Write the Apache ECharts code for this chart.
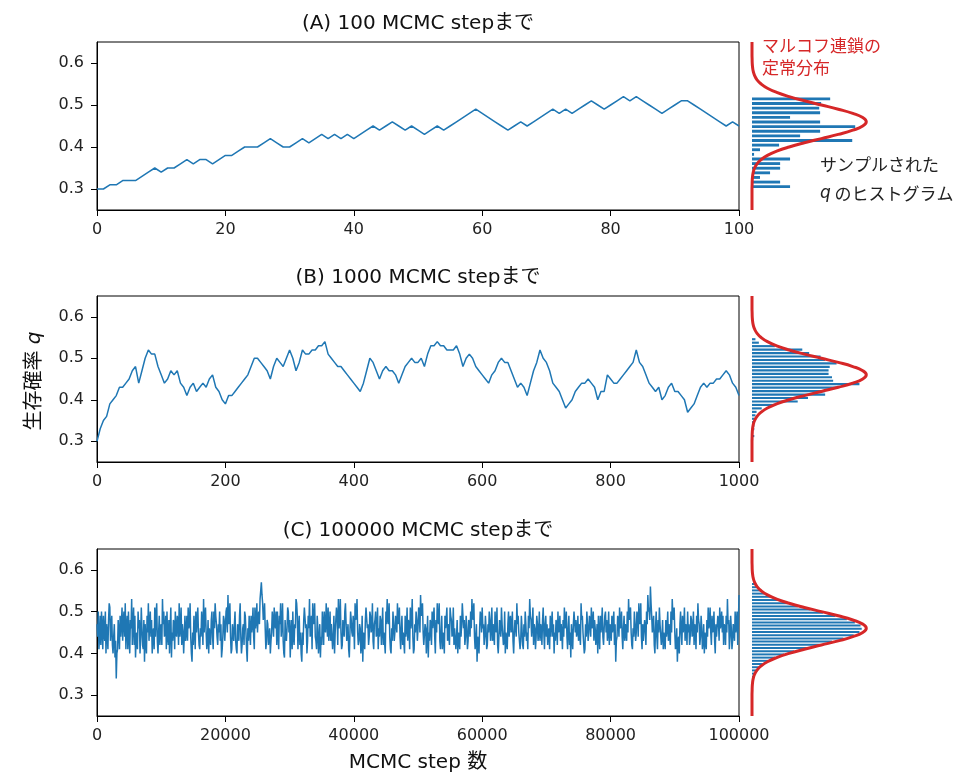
<!DOCTYPE html>
<html>
<head>
<meta charset="utf-8">
<script src="https://cdn.jsdelivr.net/npm/echarts@6/dist/echarts.min.js"></script>
<style>
  html, body { margin: 0; padding: 0; background: #fff; }
  .chart { width: 974px; height: 781px; }
</style>
</head>
<body>
<div class="chart"></div>
<script>
// (A) 100 step の軌跡
var traceA = [0.30,0.30,0.31,0.31,0.32,0.32,0.32,0.33,0.34,0.35,
  0.34,0.35,0.35,0.36,0.37,0.36,0.37,0.37,0.36,0.37,
  0.38,0.38,0.39,0.40,0.40,0.40,0.41,0.42,0.41,0.40,
  0.40,0.41,0.42,0.41,0.42,0.43,0.42,0.43,0.42,0.43,
  0.42,0.43,0.44,0.45,0.44,0.45,0.46,0.45,0.44,0.45,
  0.44,0.43,0.44,0.45,0.44,0.45,0.46,0.47,0.48,0.49,
  0.48,0.47,0.46,0.45,0.44,0.45,0.46,0.45,0.46,0.47,
  0.48,0.49,0.48,0.49,0.48,0.49,0.50,0.51,0.50,0.49,
  0.50,0.51,0.52,0.51,0.52,0.51,0.50,0.49,0.48,0.49,
  0.50,0.51,0.51,0.50,0.49,0.48,0.47,0.46,0.45,0.46,0.45];

// (B) 1000 step の軌跡 (5 step ごと)
var traceB = [0.30,0.33,0.35,0.36,0.39,0.40,0.41,0.43,0.43,0.44,
  0.45,0.47,0.48,0.44,0.47,0.50,0.52,0.51,0.51,0.48,
  0.46,0.44,0.45,0.47,0.46,0.47,0.44,0.43,0.41,0.43,
  0.44,0.42,0.43,0.44,0.43,0.45,0.46,0.43,0.42,0.40,
  0.39,0.41,0.41,0.42,0.43,0.44,0.45,0.46,0.48,0.50,
  0.50,0.49,0.48,0.47,0.45,0.48,0.50,0.49,0.48,0.50,
  0.52,0.50,0.47,0.49,0.52,0.51,0.51,0.52,0.52,0.53,
  0.53,0.54,0.51,0.50,0.49,0.48,0.48,0.47,0.46,0.45,
  0.44,0.43,0.42,0.44,0.47,0.50,0.49,0.47,0.45,0.47,
  0.48,0.47,0.47,0.46,0.44,0.46,0.48,0.49,0.50,0.49,
  0.49,0.50,0.48,0.51,0.53,0.53,0.54,0.53,0.53,0.52,
  0.52,0.52,0.53,0.51,0.48,0.50,0.51,0.50,0.48,0.47,
  0.46,0.45,0.44,0.46,0.47,0.49,0.50,0.49,0.49,0.47,
  0.45,0.43,0.44,0.43,0.41,0.44,0.47,0.49,0.52,0.50,
  0.49,0.47,0.44,0.43,0.42,0.40,0.38,0.39,0.40,0.42,
  0.43,0.44,0.44,0.45,0.44,0.43,0.40,0.42,0.42,0.46,
  0.45,0.44,0.44,0.45,0.46,0.47,0.48,0.49,0.52,0.49,
  0.48,0.46,0.44,0.43,0.42,0.43,0.40,0.41,0.43,0.44,
  0.42,0.42,0.41,0.40,0.37,0.38,0.39,0.41,0.43,0.44,
  0.43,0.44,0.44,0.45,0.45,0.46,0.47,0.46,0.44,0.43,0.41];

// (C) 100000 step の軌跡: 200 step ごとの値 (step 0, 200, 400, ...)
var traceC = [0.47,0.50,0.44,0.42,0.46,0.49,0.43,0.40,0.45,0.48,0.51,0.46,0.42,0.44,0.39,0.34,0.41,0.45,0.49,0.47,
  0.43,0.50,0.52,0.46,0.41,0.44,0.48,0.53,0.47,0.42,0.39,0.45,0.50,0.48,0.44,0.46,0.41,0.38,0.43,0.49,
  0.52,0.47,0.44,0.40,0.46,0.51,0.49,0.43,0.45,0.42,0.47,0.53,0.50,0.45,0.41,0.44,0.48,0.46,0.39,0.43,
  0.47,0.50,0.44,0.48,0.52,0.46,0.42,0.45,0.40,0.43,0.49,0.51,0.47,0.44,0.38,0.42,0.46,0.50,0.48,0.45,
  0.41,0.44,0.47,0.53,0.49,0.45,0.43,0.40,0.46,0.48,0.44,0.50,0.52,0.47,0.42,0.45,0.43,0.39,0.44,0.48,
  0.46,0.51,0.54,0.48,0.44,0.41,0.45,0.47,0.43,0.40,0.46,0.49,0.44,0.42,0.47,0.50,0.45,0.38,0.43,0.46,
  0.49,0.47,0.44,0.51,0.48,0.45,0.50,0.53,0.57,0.52,0.49,0.46,0.43,0.47,0.44,0.40,0.45,0.48,0.51,0.46,
  0.42,0.45,0.49,0.52,0.47,0.43,0.39,0.44,0.46,0.50,0.48,0.45,0.41,0.44,0.47,0.53,0.49,0.46,0.42,0.40,
  0.45,0.48,0.51,0.47,0.43,0.46,0.44,0.49,0.52,0.48,0.44,0.41,0.46,0.43,0.39,0.42,0.47,0.50,0.45,0.48,
  0.51,0.46,0.43,0.47,0.44,0.40,0.45,0.49,0.53,0.48,0.45,0.42,0.46,0.50,0.47,0.43,0.41,0.45,0.48,0.44,
  0.47,0.52,0.49,0.45,0.43,0.46,0.42,0.38,0.44,0.48,0.51,0.47,0.44,0.49,0.46,0.43,0.47,0.50,0.45,0.41,
  0.44,0.48,0.46,0.42,0.45,0.50,0.53,0.47,0.44,0.40,0.43,0.47,0.45,0.49,0.52,0.48,0.44,0.46,0.42,0.45,
  0.49,0.46,0.43,0.47,0.51,0.48,0.44,0.41,0.45,0.48,0.46,0.50,0.54,0.49,0.45,0.42,0.46,0.44,0.39,0.43,
  0.47,0.50,0.46,0.44,0.48,0.52,0.47,0.43,0.45,0.41,0.44,0.49,0.46,0.43,0.47,0.51,0.48,0.45,0.42,0.46,
  0.44,0.40,0.45,0.49,0.47,0.52,0.48,0.44,0.46,0.43,0.47,0.50,0.53,0.48,0.44,0.41,0.38,0.43,0.46,0.49,
  0.51,0.47,0.44,0.46,0.42,0.45,0.48,0.46,0.43,0.47,0.50,0.45,0.42,0.44,0.48,0.51,0.47,0.43,0.40,0.45,
  0.47,0.44,0.49,0.46,0.43,0.45,0.48,0.52,0.49,0.45,0.43,0.46,0.41,0.44,0.47,0.45,0.49,0.53,0.48,0.44,
  0.42,0.46,0.44,0.47,0.45,0.43,0.46,0.48,0.45,0.47,0.44,0.42,0.46,0.49,0.47,0.44,0.40,0.43,0.47,0.50,
  0.46,0.43,0.45,0.48,0.51,0.47,0.44,0.46,0.42,0.39,0.44,0.47,0.50,0.48,0.45,0.43,0.47,0.52,0.49,0.45,
  0.41,0.44,0.47,0.45,0.48,0.51,0.47,0.43,0.46,0.44,0.40,0.45,0.49,0.47,0.44,0.46,0.50,0.48,0.45,0.42,
  0.46,0.49,0.45,0.42,0.38,0.44,0.48,0.51,0.47,0.44,0.46,0.43,0.47,0.50,0.53,0.48,0.45,0.41,0.44,0.47,
  0.45,0.49,0.52,0.48,0.44,0.47,0.43,0.46,0.50,0.54,0.51,0.56,0.49,0.45,0.42,0.46,0.44,0.48,0.51,0.47,
  0.44,0.41,0.45,0.48,0.46,0.43,0.47,0.50,0.53,0.48,0.45,0.42,0.38,0.44,0.47,0.45,0.49,0.46,0.43,0.46,
  0.50,0.47,0.44,0.48,0.45,0.42,0.46,0.49,0.52,0.47,0.44,0.46,0.43,0.40,0.45,0.48,0.51,0.47,0.45,0.49,
  0.46,0.43,0.47,0.44,0.48,0.51,0.47,0.45,0.42,0.46,0.49,0.53,0.48,0.44,0.46,0.43,0.47,0.50,0.45,0.42,
  0.54];
// (C) その間の値 (step 100, 300, 500, ...)
var traceCMid = [0.44,0.41,0.49,0.50,0.41,0.45,0.50,0.47,0.41,0.52,0.43,0.49,0.40,0.47,0.43,0.40,0.48,0.41,0.44,0.51,
  0.48,0.44,0.41,0.49,0.50,0.40,0.46,0.42,0.51,0.49,0.44,0.41,0.46,0.40,0.51,0.42,0.48,0.47,0.40,0.45,
  0.43,0.50,0.48,0.45,0.41,0.44,0.52,0.40,0.49,0.46,0.42,0.47,0.44,0.49,0.50,0.42,0.40,0.51,0.45,0.48,
  0.41,0.45,0.49,0.42,0.44,0.51,0.47,0.40,0.49,0.45,0.43,0.46,0.52,0.40,0.45,0.49,0.41,0.45,0.51,0.42,
  0.46,0.50,0.42,0.45,0.51,0.41,0.48,0.46,0.42,0.50,0.41,0.46,0.49,0.44,0.47,0.50,0.47,0.41,0.49,0.43,
  0.50,0.45,0.47,0.52,0.40,0.47,0.43,0.50,0.41,0.47,0.43,0.52,0.40,0.46,0.42,0.49,0.41,0.46,0.49,0.42,
  0.45,0.51,0.41,0.46,0.52,0.49,0.47,0.55,0.54,0.48,0.52,0.41,0.48,0.42,0.46,0.43,0.50,0.44,0.47,0.50,
  0.50,0.41,0.47,0.44,0.52,0.40,0.48,0.43,0.51,0.45,0.39,0.48,0.50,0.42,0.46,0.52,0.41,0.49,0.45,0.38,
  0.42,0.51,0.46,0.40,0.49,0.53,0.45,0.41,0.47,0.52,0.43,0.49,0.40,0.47,0.44,0.50,0.42,0.46,0.52,0.44,
  0.43,0.50,0.47,0.41,0.49,0.45,0.51,0.42,0.46,0.53,0.41,0.48,0.44,0.52,0.43,0.47,0.39,0.50,0.45,0.49,
  0.41,0.48,0.53,0.42,0.47,0.40,0.49,0.45,0.41,0.51,0.46,0.42,0.50,0.45,0.52,0.41,0.48,0.44,0.51,0.46,
  0.49,0.42,0.51,0.45,0.40,0.47,0.48,0.52,0.41,0.46,0.50,0.43,0.49,0.45,0.47,0.51,0.41,0.49,0.45,0.40,
  0.44,0.51,0.48,0.41,0.46,0.53,0.40,0.47,0.50,0.43,0.51,0.45,0.49,0.52,0.42,0.47,0.40,0.49,0.45,0.48,
  0.42,0.46,0.51,0.40,0.45,0.48,0.52,0.41,0.49,0.45,0.40,0.46,0.51,0.47,0.42,0.49,0.44,0.51,0.46,0.41,
  0.48,0.45,0.41,0.44,0.52,0.46,0.42,0.49,0.41,0.48,0.44,0.46,0.49,0.52,0.41,0.47,0.44,0.40,0.50,0.45,
  0.46,0.42,0.49,0.41,0.47,0.50,0.43,0.51,0.47,0.42,0.46,0.51,0.40,0.48,0.44,0.47,0.42,0.50,0.45,0.41,
  0.50,0.48,0.45,0.50,0.40,0.48,0.44,0.47,0.45,0.41,0.49,0.42,0.47,0.50,0.43,0.41,0.46,0.49,0.44,0.51,
  0.47,0.41,0.49,0.43,0.50,0.47,0.42,0.51,0.41,0.49,0.47,0.45,0.41,0.44,0.50,0.47,0.45,0.48,0.42,0.45,
  0.49,0.47,0.41,0.44,0.46,0.50,0.41,0.49,0.45,0.47,0.41,0.50,0.45,0.44,0.49,0.47,0.42,0.48,0.45,0.40,
  0.47,0.50,0.43,0.49,0.44,0.46,0.50,0.48,0.42,0.47,0.49,0.41,0.45,0.51,0.42,0.49,0.45,0.43,0.50,0.47,
  0.43,0.45,0.50,0.47,0.43,0.49,0.44,0.46,0.50,0.41,0.49,0.47,0.43,0.45,0.48,0.51,0.42,0.46,0.50,0.43,
  0.50,0.44,0.47,0.52,0.41,0.43,0.48,0.42,0.47,0.50,0.48,0.52,0.45,0.49,0.40,0.50,0.41,0.45,0.47,0.42,
  0.48,0.45,0.41,0.44,0.50,0.47,0.42,0.45,0.49,0.51,0.41,0.46,0.43,0.40,0.50,0.42,0.45,0.51,0.47,0.42,
  0.45,0.42,0.49,0.44,0.50,0.47,0.41,0.45,0.48,0.42,0.49,0.41,0.47,0.45,0.41,0.44,0.46,0.51,0.42,0.45,
  0.50,0.40,0.44,0.49,0.43,0.46,0.50,0.49,0.47,0.42,0.45,0.47,0.41,0.49,0.41,0.47,0.43,0.45,0.50,0.47];

// ヒストグラム (密度, 下の bin から)
var histA = [3.33,2.46,0.70,1.58,2.46,2.46,3.33,0.18,0.70,2.37,
  8.77,4.21,5.96,9.03,5.96,3.33,5.96,5.88,6.05,6.84];
var histB = [0.10,0.20,0.10,0.20,0.20,0.20,0.20,0.30,0.40,0.85,
  2.0,4.0,4.9,6.4,6.4,7.4,9.4,7.1,7.0,6.7,
  6.7,6.8,7.4,6.4,6.0,5.0,4.4,2.0,0.6,0.3];
var histC = [0.12,0.22,0.40,0.60,0.95,1.4,2.0,2.8,3.7,4.8,
  5.9,7.0,8.0,8.9,9.4,9.6,9.5,9.0,8.3,7.3,
  6.2,5.1,4.0,3.1,2.3,1.6,1.1,0.7,0.45,0.25];
var binA = {start: 0.30, width: 0.011};
var binB = {start: 0.30, width: 0.25 / 30};
var binC = {start: 0.34, width: 0.23 / 30};

// 定常分布 (q = 0.25 .. 0.65, 0.01 刻み)
var curveQ = [0.25,0.26,0.27,0.28,0.29,0.30,0.31,0.32,0.33,0.34,
  0.35,0.36,0.37,0.38,0.39,0.40,0.41,0.42,0.43,0.44,
  0.45,0.46,0.47,0.48,0.49,0.50,0.51,0.52,0.53,0.54,
  0.55,0.56,0.57,0.58,0.59,0.60,0.61,0.62,0.63,0.64,0.65];
var curveD = [0,0,0,0,0,0,0.01,0.02,0.05,0.11,
  0.23,0.44,0.80,1.35,2.16,3.25,4.58,6.07,7.55,8.82,
  9.69,10.0,9.69,8.82,7.55,6.07,4.58,3.25,2.16,1.35,
  0.80,0.44,0.23,0.11,0.05,0.02,0.01,0,0,0,0];

var yTicks = [0.3, 0.4, 0.5, 0.6];
var xMaxList = [100, 1000, 100000];
var xIntervalList = [20, 200, 20000];
var titles = ['(A) 100 MCMC stepまで', '(B) 1000 MCMC stepまで', '(C) 100000 MCMC stepまで'];

var FONT = "'DejaVu Sans', 'Noto Sans CJK JP'";
var JFONT = "'Noto Sans CJK JP'";
var BLUE = '#1f77b4';
var RED = '#d62728';
var tops = [42, 296, 549];
var heights = [168, 166, 167];

var myChart = echarts.init(document.querySelector('.chart'), null, {renderer: 'canvas'});

function toPairs(arr, stepEvery) {
  return arr.map(function (v, i) { return [i * stepEvery, v]; });
}

// 200 step ごとの値とその間の値を交互に並べる
function mergeC(even, mid) {
  var out = [];
  for (var j = 0; j < even.length; j++) {
    out.push([j * 200, even[j]]);
    if (j < mid.length) out.push([j * 200 + 100, mid[j]]);
  }
  return out;
}

function histData(arr, bin) {
  return arr.map(function (d, k) { return [d, bin.start + bin.width * (k + 0.5)]; });
}

function barRender(bin) {
  return function (params, api) {
    var h = bin.width * 0.62;
    var q = api.value(1);
    var p0 = api.coord([0, q + h / 2]);
    var p1 = api.coord([api.value(0), q - h / 2]);
    return {
      type: 'rect',
      shape: {x: p0[0], y: p0[1], width: p1[0] - p0[0], height: p1[1] - p0[1]},
      style: {fill: BLUE}
    };
  };
}

var curveData = curveQ.map(function (q, i) { return [curveD[i], q]; });

var grids = [], xAxes = [], yAxes = [], series = [], graphics = [];
var traces = [toPairs(traceA, 1), toPairs(traceB, 5), mergeC(traceC, traceCMid)];
var hists = [histData(histA, binA), histData(histB, binB), histData(histC, binC)];
var bins = [binA, binB, binC];

for (var i = 0; i < 3; i++) {
  // 軌跡の枠
  grids.push({left: 97, top: tops[i], width: 642, height: heights[i],
    show: true, borderColor: '#000', borderWidth: 1});
  // ヒストグラムの枠
  grids.push({left: 752, top: tops[i], width: 120, height: heights[i], show: false});

  xAxes.push({
    gridIndex: 2 * i, type: 'value', min: 0, max: xMaxList[i], interval: xIntervalList[i],
    axisLine: {show: true, lineStyle: {color: '#000'}},
    axisTick: {show: true, length: 6, lineStyle: {color: '#000'}},
    axisLabel: {fontFamily: FONT, fontSize: 16, color: '#222', margin: 12,
      formatter: function (v) { return String(v); }},
    splitLine: {show: false}
  });
  xAxes.push({gridIndex: 2 * i + 1, type: 'value', min: 0, max: 10.5, show: false});

  yAxes.push({
    gridIndex: 2 * i, type: 'value', min: 0.25, max: 0.65,
    axisLine: {show: true, lineStyle: {color: '#000'}},
    axisTick: {show: true, length: 6, customValues: yTicks, lineStyle: {color: '#000'}},
    axisLabel: {fontFamily: FONT, fontSize: 16, color: '#222', margin: 13, customValues: yTicks,
      formatter: function (v) { return v.toFixed(1); }},
    splitLine: {show: false}
  });
  yAxes.push({gridIndex: 2 * i + 1, type: 'value', min: 0.25, max: 0.65, show: false});

  series.push({
    type: 'line', xAxisIndex: 2 * i, yAxisIndex: 2 * i, data: traces[i],
    showSymbol: false, lineStyle: {color: BLUE, width: 1.5},
    itemStyle: {color: BLUE}, animation: false
  });
  series.push({
    type: 'custom', xAxisIndex: 2 * i + 1, yAxisIndex: 2 * i + 1, data: hists[i],
    renderItem: barRender(bins[i]), animation: false
  });
  series.push({
    type: 'line', xAxisIndex: 2 * i + 1, yAxisIndex: 2 * i + 1, data: curveData,
    showSymbol: false, smooth: true, lineStyle: {color: RED, width: 3},
    itemStyle: {color: RED}, animation: false, z: 5
  });

  graphics.push({
    type: 'text', x: 418, y: tops[i] - 18,
    style: {text: titles[i], fontFamily: FONT, fontSize: 20, fill: '#111',
      textAlign: 'center', textVerticalAlign: 'middle'}
  });
}

// 注釈・軸ラベル
graphics.push({type: 'text', x: 762, y: 35,
  style: {text: 'マルコフ連鎖の\n定常分布', fontFamily: JFONT, fontSize: 17, lineHeight: 22, fill: RED}});
graphics.push({type: 'text', x: 820, y: 150,
  style: {text: 'サンプルされた\n{i|q} のヒストグラム', fontFamily: JFONT, fontSize: 17, lineHeight: 29, fill: '#222',
    rich: {i: {fontStyle: 'italic', fontFamily: FONT, fontSize: 17, fill: '#222'}}}});
graphics.push({type: 'text', x: 418, y: 763,
  style: {text: 'MCMC step 数', fontFamily: FONT, fontSize: 20, fill: '#111', textAlign: 'center', textVerticalAlign: 'middle'}});
graphics.push({type: 'text', x: 35, y: 381, rotation: Math.PI / 2,
  style: {text: '生存確率 {i|q}', fontFamily: FONT, fontSize: 20, fill: '#111', textAlign: 'center', textVerticalAlign: 'middle',
    rich: {i: {fontStyle: 'italic', fontFamily: FONT, fontSize: 20, fill: '#111'}}}});

var option = {
  animation: false,
  backgroundColor: '#fff',
  textStyle: {fontFamily: FONT},
  grid: grids,
  xAxis: xAxes,
  yAxis: yAxes,
  series: series,
  graphic: graphics
};

myChart.setOption(option);
</script>
</body>
</html>
